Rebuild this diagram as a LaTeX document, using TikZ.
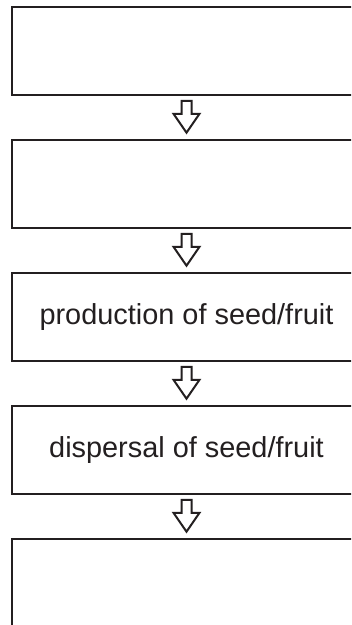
\documentclass[tikz,border=0pt]{standalone}
\usepackage{fontspec}
\setmainfont{Liberation Sans}
\usetikzlibrary{calc}
\definecolor{ink}{HTML}{231F20}
\tikzset{
  stage/.style={draw=ink, line width=2.6bp, minimum width=349bp, minimum height=88bp,
    inner sep=0pt, text=ink, font=\fontsize{29}{34}\selectfont},
  hollowarrow/.style={draw=ink, fill=white, line width=2bp, line join=miter},
}
% hollow block arrow from the bottom of one stage to the top of the next
\newcommand\flowarrow[2]{%
  \draw[hollowarrow] ($(#1.south)+(-5,-4.5)$) -- ($(#1.south)+(-5,-17.5)$)
    -- ($(#1.south)+(-13,-17.5)$) -- ($(#2.north)+(0,6)$)
    -- ($(#1.south)+(13,-17.5)$) -- ($(#1.south)+(5,-17.5)$)
    -- ($(#1.south)+(5,-4.5)$) -- cycle;}
\begin{document}
\begin{tikzpicture}[x=1bp,y=1bp]
  \useasboundingbox (0,0) rectangle (351,625);
  \clip (0,0) rectangle (351,625);
  \fill[white] (0,0) rectangle (351,625);
  \node[stage] (s1) at (186.5,574) {};
  \node[stage] (s2) at (186.5,441) {};
  \node[stage] (s3) at (186.5,308) {production of seed/fruit};
  \node[stage] (s4) at (186.5,175) {dispersal of seed/fruit};
  \node[stage] (s5) at (186.5,42) {};
  \flowarrow{s1}{s2}
  \flowarrow{s2}{s3}
  \flowarrow{s3}{s4}
  \flowarrow{s4}{s5}
\end{tikzpicture}
\end{document}
